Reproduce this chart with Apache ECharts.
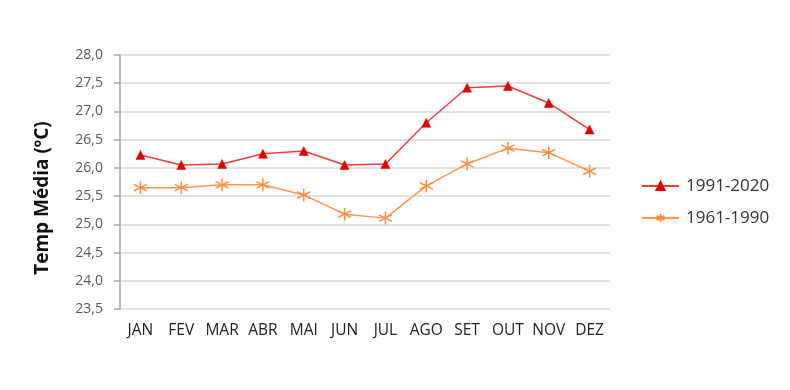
<!DOCTYPE html>
<html><head><meta charset="utf-8">
<script src="https://cdn.jsdelivr.net/npm/echarts@6/dist/echarts.min.js"></script>
<style>html,body{margin:0;padding:0;background:#fff}#c{width:790px;height:390px}</style>
</head><body><div id="c"></div>
<script>
const months = ['JAN','FEV','MAR','ABR','MAI','JUN','JUL','AGO','SET','OUT','NOV','DEZ'];
const s1991 = [26.23,26.05,26.07,26.25,26.30,26.05,26.07,26.80,27.42,27.45,27.15,26.68];
const s1961 = [25.65,25.65,25.70,25.70,25.52,25.18,25.11,25.68,26.07,26.35,26.27,25.94];
const yMin = 23.5, yMax = 28.0, yStep = 0.5;
const yTitle = 'Temp Média (ºC)';
const names = ['1991-2020','1961-1990'];

const chart = echarts.init(document.getElementById('c'));
const star = 'path://M0,-1L0,1M-0.87,-0.5L0.87,0.5M-0.87,0.5L0.87,-0.5';
chart.setOption({
  animation:false,
  textStyle:{fontFamily:'Open Sans, Noto Sans, sans-serif'},
  grid:{left:120,right:180,top:55,bottom:81},
  legend:{
    orient:'vertical', left:636, top:171, itemGap:12, itemWidth:37, itemHeight:10,
    textStyle:{fontSize:17,lineHeight:20,color:'#333',padding:[0,0,0,2]},
    data:names
  },
  graphic:[{type:'text',x:43,y:198,rotation:Math.PI/2,
    style:{text:yTitle,font:'bold 19px "Open Sans", sans-serif',fill:'#111',align:'center',verticalAlign:'middle'}}],
  xAxis:{type:'category',data:months,boundaryGap:true,
    axisLine:{show:false},axisTick:{show:false},
    axisLabel:{color:'#222',fontSize:15.5,margin:14,interval:0}},
  yAxis:{type:'value',min:yMin,max:yMax,interval:yStep,
    axisLine:{show:true,lineStyle:{color:'#a6a6a6',width:1.5}},
    axisTick:{show:true,length:6,lineStyle:{color:'#a6a6a6',width:1.5}},
    splitLine:{lineStyle:{color:'#d9d9d9',width:1.5}},
    axisLabel:{color:'#595959',fontSize:14,margin:17,
      formatter:v=>v.toFixed(1).replace('.',',')}},
  series:[
    {name:names[0],type:'line',data:s1991,symbol:'triangle',symbolSize:9,
     lineStyle:{color:'#f03c3c',width:1.5},
     itemStyle:{color:'#dd0000',borderColor:'#dd0000',borderWidth:0.5}},
    {name:names[1],type:'line',data:s1961,symbol:star,symbolSize:13,
     lineStyle:{color:'#ff9650',width:1.5},
     itemStyle:{color:'#ff9650',borderColor:'#ff8c40',borderWidth:1.5}}
  ]
});
</script></body></html>
